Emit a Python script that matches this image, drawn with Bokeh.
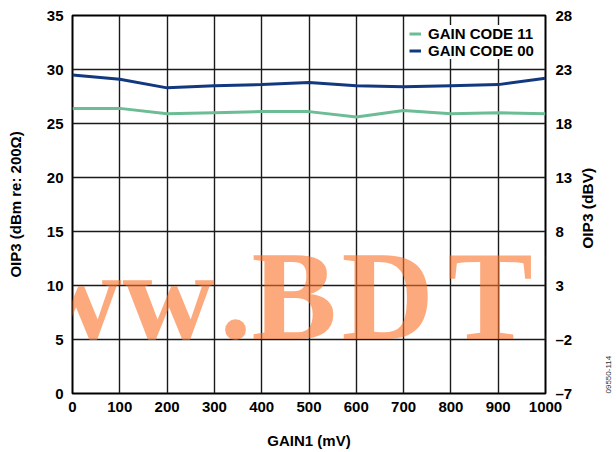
from bokeh.plotting import figure
from bokeh.models import Range1d, LinearAxis, FixedTicker, Label, Legend, LegendItem
from bokeh.embed import file_html
from bokeh.resources import INLINE
import math

# ---- data ----
gain1_mv = [0, 100, 200, 300, 400, 500, 600, 700, 800, 900, 1000]
oip3_gain_code_11 = [26.4, 26.4, 25.9, 26.0, 26.1, 26.1, 25.6, 26.2, 25.9, 26.0, 25.9]
oip3_gain_code_00 = [29.5, 29.1, 28.3, 28.5, 28.6, 28.8, 28.5, 28.4, 28.5, 28.6, 29.2]

x_ticks = [0, 100, 200, 300, 400, 500, 600, 700, 800, 900, 1000]
left_ticks = [0, 5, 10, 15, 20, 25, 30, 35]
right_ticks = [-7, -2, 3, 8, 13, 18, 23, 28]
right_labels = {-7: "\u20137", -2: "\u20132"}

FONT = "Liberation Sans"

p = figure(width=616, height=452, output_backend="svg", toolbar_location=None,
           x_range=Range1d(0, 1000), y_range=Range1d(0, 35),
           min_border_left=72, min_border_right=68, min_border_top=15,
           min_border_bottom=59, background_fill_color="white",
           border_fill_color="white")
p.extra_y_ranges = {"dbv": Range1d(-7, 28)}

p.outline_line_color = "black"
p.outline_line_width = 2
p.outline_line_alpha = 1

for g, t in ((p.xgrid, x_ticks), (p.ygrid, left_ticks)):
    g.ticker = FixedTicker(ticks=t)
    g.grid_line_color = "#1a1a1a"
    g.grid_line_width = 1.4
    g.grid_line_alpha = 1

def style_axis(ax, standoff, label_standoff, tick_size="15px"):
    ax.axis_line_color = None
    ax.major_tick_line_color = None
    ax.minor_tick_line_color = None
    ax.major_tick_out = 0
    ax.major_tick_in = 0
    ax.minor_tick_out = 0
    ax.minor_tick_in = 0
    ax.major_label_text_font = FONT
    ax.major_label_text_font_style = "bold"
    ax.major_label_text_font_size = tick_size
    ax.major_label_text_color = "black"
    ax.major_label_standoff = standoff
    ax.axis_label_text_font = FONT
    ax.axis_label_text_font_style = "bold"
    ax.axis_label_text_font_size = "15px"
    ax.axis_label_text_color = "black"
    ax.axis_label_standoff = label_standoff

xa = p.xaxis[0]
xa.ticker = FixedTicker(ticks=x_ticks)
xa.axis_label = "GAIN1 (mV)"
style_axis(xa, 8, 17)

ya = p.yaxis[0]
ya.ticker = FixedTicker(ticks=left_ticks)
ya.axis_label = "OIP3 (dBm re: 200\u03a9)"
style_axis(ya, 9, 20)

ra = LinearAxis(y_range_name="dbv", ticker=FixedTicker(ticks=right_ticks))
ra.major_label_overrides = right_labels
style_axis(ra, 10, 0)
p.add_layout(ra, "right")

# right-hand title, read bottom to top: a rotated label of an extra axis
dbv_title_at = [13.4]
dbv_title = LinearAxis(ticker=FixedTicker(ticks=dbv_title_at))
dbv_title.major_label_overrides = {dbv_title_at[0]: "OIP3 (dBV)"}
style_axis(dbv_title, 12, 0, "15.5px")
dbv_title.major_label_orientation = math.pi / 2
p.add_layout(dbv_title, "right")

# figure number, also read bottom to top
fig_no_at = [0]
fig_no = LinearAxis(ticker=FixedTicker(ticks=fig_no_at))
fig_no.major_label_overrides = {fig_no_at[0]: "09550-114"}
style_axis(fig_no, 1, 0, "8px")
fig_no.major_label_text_font_style = "normal"
fig_no.major_label_text_color = "#333333"
fig_no.major_label_orientation = math.pi / 2
p.add_layout(fig_no, "right")

r11 = p.line(gain1_mv, oip3_gain_code_11, line_color="#6CBD95", line_width=3)
r00 = p.line(gain1_mv, oip3_gain_code_00, line_color="#12397F", line_width=3)

legend = Legend(items=[LegendItem(label="GAIN CODE 11", renderers=[r11]),
                       LegendItem(label="GAIN CODE 00", renderers=[r00])],
                location=(337, 334), orientation="vertical")
legend.label_text_font = FONT
legend.label_text_font_style = "bold"
legend.label_text_font_size = "15px"
legend.label_text_color = "black"
legend.label_height = 15
legend.glyph_height = 15
legend.glyph_width = 12
legend.label_standoff = 7
legend.spacing = 0
legend.padding = 4
legend.margin = 0
legend.border_line_color = None
legend.background_fill_color = "white"
legend.background_fill_alpha = 1
p.add_layout(legend)

# watermark (screen units, relative to the plot frame's lower-left corner)
wm_letters = [("w", -138), ("w", -43), ("w", 50), (".", 147), ("B", 179),
              ("D", 269), ("T", 375), ("I", 469), ("C", 517)]
for ch, sx in wm_letters:
    p.add_layout(Label(x=sx, y=98, x_units="screen", y_units="screen",
                       text=ch, text_align="left", text_baseline="middle",
                       text_font="Liberation Serif", text_font_style="bold",
                       text_font_size="128px", text_color="#FA7126",
                       text_alpha=0.6))

open("out.html", "w").write(file_html(p, INLINE))
